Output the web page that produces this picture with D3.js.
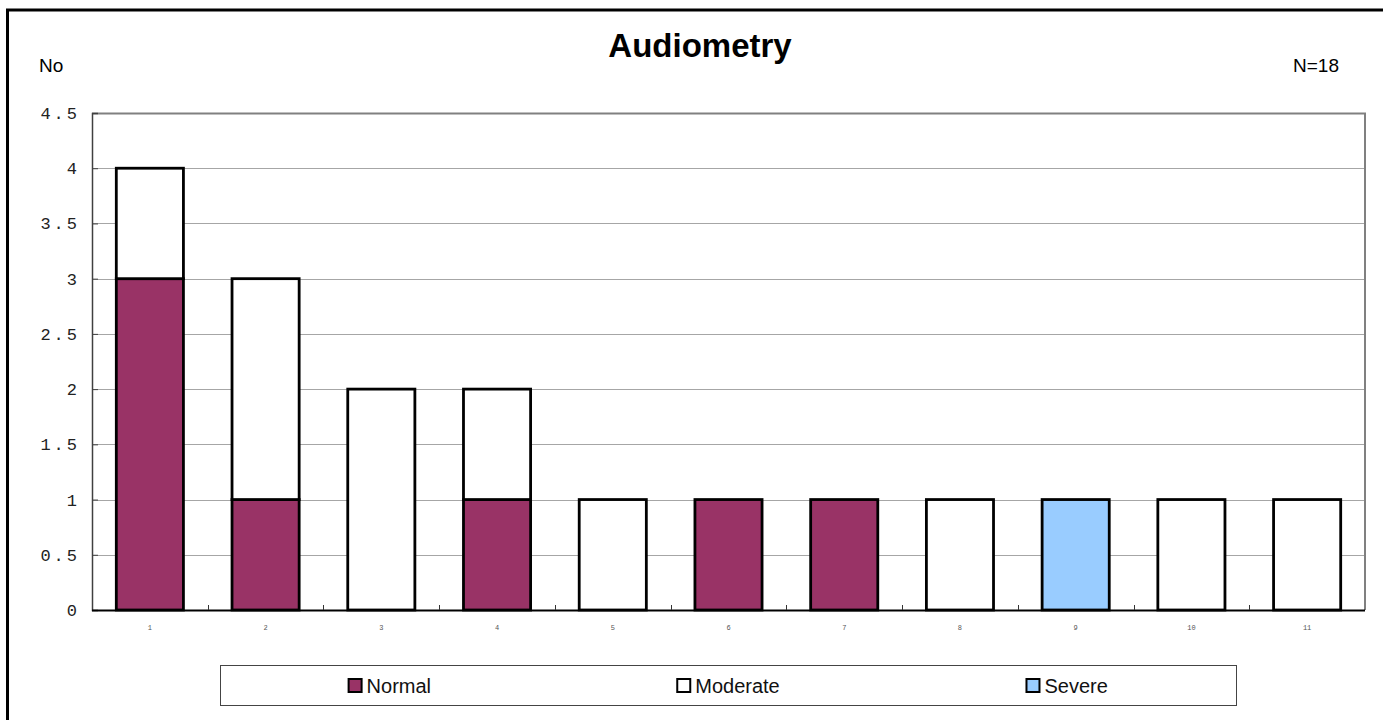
<!DOCTYPE html>
<html>
<head>
<script src="https://cdn.jsdelivr.net/npm/d3@7"></script>
<style>
  body { margin: 0; background: #fff; }
</style>
</head>
<body>
<div id="chart"></div>
<script>
    var categories = ['1', '2', '3', '4', '5', '6', '7', '8', '9', '10', '11'];
    var normal   = [3, 1, 0, 1, 0, 1, 1, 0, 0, 0, 0];
    var moderate = [1, 2, 2, 1, 1, 0, 0, 1, 0, 1, 1];
    var severe   = [0, 0, 0, 0, 0, 0, 0, 0, 1, 0, 0];
    var seriesNames = ['Normal', 'Moderate', 'Severe'];
    var yTicks = [0, 0.5, 1, 1.5, 2, 2.5, 3, 3.5, 4, 4.5];

    var colors = ['#993366', '#ffffff', '#99ccff'];

    var width = 1383, height = 720;
    var plot = { left: 92, right: 1365, top: 113, bottom: 610 };

    var svg = d3.select('#chart').append('svg')
        .attr('width', width)
        .attr('height', height);

    // outer frame
    svg.append('rect')
        .attr('x', 7.5).attr('y', 10)
        .attr('width', width + 10).attr('height', height + 10)
        .attr('fill', 'none').attr('stroke', '#000').attr('stroke-width', 3);

    svg.append('text')
        .attr('x', 700).attr('y', 57)
        .attr('text-anchor', 'middle')
        .attr('font-family', 'Liberation Sans, Arial, sans-serif')
        .attr('font-weight', 'bold')
        .attr('font-size', 33)
        .text('Audiometry');

    svg.append('text')
        .attr('x', 39).attr('y', 72)
        .attr('font-family', 'Liberation Sans, Arial, sans-serif')
        .attr('font-size', 19)
        .text('No');

    svg.append('text')
        .attr('x', 1339).attr('y', 72)
        .attr('text-anchor', 'end')
        .attr('font-family', 'Liberation Sans, Arial, sans-serif')
        .attr('font-size', 19)
        .text('N=18');

    var x = d3.scaleBand().domain(categories).range([plot.left, plot.right]).paddingInner(0.42).paddingOuter(0.21);
    var y = d3.scaleLinear().domain([0, 4.5]).range([plot.bottom, plot.top]);

    // grid lines
    svg.append('g').selectAll('line')
        .data(yTicks.filter(function(d) { return d > 0; }))
        .enter().append('line')
        .attr('x1', plot.left).attr('x2', plot.right)
        .attr('y1', function(d) { return Math.round(y(d)) + 0.5; })
        .attr('y2', function(d) { return Math.round(y(d)) + 0.5; })
        .attr('stroke', '#a6a6a6').attr('stroke-width', 1);

    // plot frame top / right
    svg.append('path')
        .attr('d', 'M' + plot.left + ',' + (plot.top + 0.5) + 'H' + plot.right + 'V' + plot.bottom)
        .attr('fill', 'none').attr('stroke', '#808080').attr('stroke-width', 2);

    // stacked bars
    var rows = categories.map(function(c, i) {
        return { cat: c, Normal: normal[i], Moderate: moderate[i], Severe: severe[i] };
    });
    var stack = d3.stack().keys(seriesNames)(rows);

    svg.append('g').selectAll('g')
        .data(stack)
        .enter().append('g')
        .attr('fill', function(d, i) { return colors[i]; })
        .selectAll('rect')
        .data(function(d) { return d.filter(function(p) { return p[1] > p[0]; }); })
        .enter().append('rect')
        .attr('x', function(d) { return x(d.data.cat); })
        .attr('y', function(d) { return y(d[1]); })
        .attr('width', x.bandwidth())
        .attr('height', function(d) { return y(d[0]) - y(d[1]); })
        .attr('stroke', '#000').attr('stroke-width', 2.8);

    // y axis, ticks inside
    var yAxis = svg.append('g')
        .attr('transform', 'translate(' + plot.left + ',0)')
        .call(d3.axisRight(y).tickValues(yTicks).tickSize(6).tickFormat(''));
    yAxis.select('.domain').attr('stroke', '#404040').attr('stroke-width', 1.5);
    yAxis.selectAll('.tick line').attr('stroke', '#404040');

    svg.append('g').selectAll('text')
        .data(yTicks)
        .enter().append('text')
        .attr('x', 80)
        .attr('y', function(d) { return y(d); })
        .attr('dy', '0.35em')
        .attr('text-anchor', 'end')
        .attr('font-family', 'Liberation Mono, Courier New, monospace')
        .attr('font-size', 17)
        .attr('letter-spacing', 3)
        .attr('fill', '#222')
        .text(function(d) { return String(d); });

    // x axis: boundary ticks pointing up
    var bounds = d3.range(1, categories.length).map(function(i) { return x(categories[i]) - x.step() * x.paddingInner() / 2; });
    svg.append('line')
        .attr('x1', plot.left).attr('x2', plot.right)
        .attr('y1', plot.bottom + 0.5).attr('y2', plot.bottom + 0.5)
        .attr('stroke', '#000').attr('stroke-width', 2);
    svg.append('g').selectAll('line')
        .data(bounds)
        .enter().append('line')
        .attr('x1', function(d) { return Math.round(d) + 0.5; })
        .attr('x2', function(d) { return Math.round(d) + 0.5; })
        .attr('y1', plot.bottom).attr('y2', plot.bottom - 5)
        .attr('stroke', '#333');

    svg.append('g').selectAll('text')
        .data(categories)
        .enter().append('text')
        .attr('x', function(d) { return x(d) + x.bandwidth() / 2; })
        .attr('y', 630)
        .attr('text-anchor', 'middle')
        .attr('font-family', 'Liberation Mono, monospace')
        .attr('font-size', 7)
        .attr('fill', '#555')
        .text(function(d) { return d; });

    // legend
    var lgX = 220, lgY = 665, lgW = 1016, lgH = 40;
    svg.append('rect')
        .attr('x', lgX + 0.5).attr('y', lgY + 0.5)
        .attr('width', lgW).attr('height', lgH)
        .attr('fill', '#fff').attr('stroke', '#444').attr('stroke-width', 1);

    var entries = svg.append('g').selectAll('g')
        .data(seriesNames)
        .enter().append('g');

    entries.each(function(name, i) {
        var g = d3.select(this);
        var t = g.append('text')
            .attr('x', 19).attr('y', 0)
            .attr('dy', '0.35em')
            .attr('font-family', 'Liberation Sans, Arial, sans-serif')
            .attr('font-size', 20)
            .attr('fill', '#111')
            .text(name);
        var w = 19 + t.node().getComputedTextLength();
        var cx = lgX + lgW / 6 + i * lgW / 3;
        g.attr('transform', 'translate(' + (cx - w / 2) + ',' + (lgY + lgH / 2 + 1) + ')');
        g.insert('rect', 'text')
            .attr('x', 1).attr('y', -7)
            .attr('width', 13).attr('height', 13)
            .attr('fill', colors[i])
            .attr('stroke', '#000').attr('stroke-width', 2);
    });
</script>
</body>
</html>
